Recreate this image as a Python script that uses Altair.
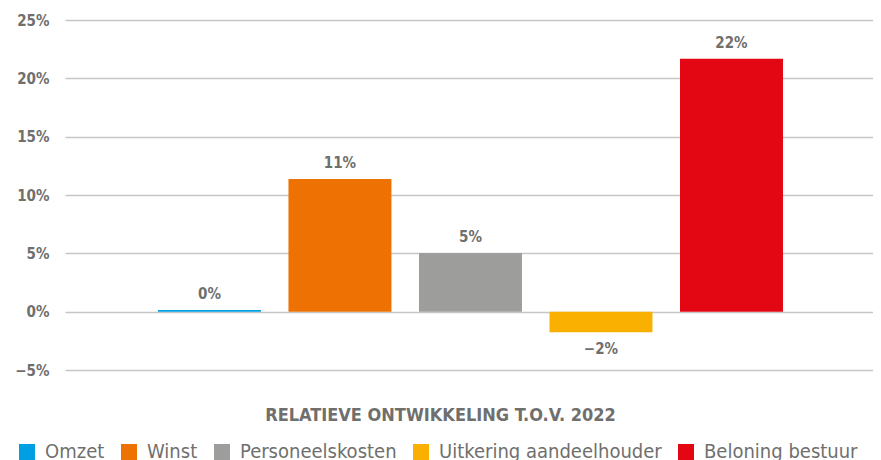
import altair as alt
import pandas as pd

categories = ["Omzet", "Winst", "Personeelskosten", "Uitkering aandeelhouder", "Beloning bestuur"]
values = [0.15, 11.38, 5.03, -1.77, 21.67]
labels = ["0%", "11%", "5%", "\u22122%", "22%"]
colors = ["#009FE3", "#EE7203", "#9D9D9C", "#F9B000", "#E30613"]
y_ticks = [-5, 0, 5, 10, 15, 20, 25]
x_title = "RELATIEVE ONTWIKKELING T.O.V. 2022"

df = pd.DataFrame({"cat": categories, "val": values, "lbl": labels})

FONT = "DejaVu Sans Condensed"
GREY = "#6F6F6E"

xscale = alt.Scale(domain=categories, paddingInner=0.211, paddingOuter=0.701, align=0.508)
yscale = alt.Scale(domain=[-5, 25], nice=False, zero=False)

base = alt.Chart(df)

bars = base.mark_bar().encode(
    x=alt.X("cat:N", scale=xscale, sort=categories,
            axis=alt.Axis(labels=False, ticks=False, domain=False, grid=False,
                          title=x_title, titleX=375, titleY=50,
                          titleAlign="center", titleBaseline="alphabetic",
                          titleFont=FONT, titleFontSize=18, titleFontWeight="bold", titleColor=GREY)),
    y=alt.Y("val:Q", scale=yscale,
            axis=alt.Axis(values=y_ticks, labelExpr="datum.value < 0 ? '\u2212' + abs(datum.value) + '%' : datum.value + '%'",
                          ticks=False, domain=False, grid=True, gridColor="#C6C6C6", gridWidth=1.5,
                          labelPadding=16, labelFont=FONT, labelFontSize=15, labelFontWeight="bold",
                          labelColor=GREY, title=None)),
    color=alt.Color("cat:N", scale=alt.Scale(domain=categories, range=colors),
                    legend=alt.Legend(orient="none", legendX=-48, legendY=422, direction="horizontal",
                                      title=None, symbolType="square", symbolSize=256,
                                      symbolStrokeWidth=0, labelFont=FONT, labelFontSize=20,
                                      labelColor=GREY, columnPadding=14, labelOffset=8,
                                      labelLimit=0, columns=5)),
)

pos_text = base.transform_filter("datum.val >= 0").mark_text(
    baseline="alphabetic", dy=-11, font=FONT, fontSize=15, fontWeight="bold", color=GREY
).encode(x=alt.X("cat:N", scale=xscale, sort=categories), y=alt.Y("val:Q", scale=yscale), text="lbl:N")

neg_text = base.transform_filter("datum.val < 0").mark_text(
    baseline="top", dy=10, font=FONT, fontSize=15, fontWeight="bold", color=GREY
).encode(x=alt.X("cat:N", scale=xscale, sort=categories), y=alt.Y("val:Q", scale=yscale), text="lbl:N")

chart = alt.layer(bars, pos_text, neg_text).properties(
    width=808, height=350,
    autosize=alt.AutoSizeParams(type="none"),
    padding={"left": 57, "top": 12, "right": 0, "bottom": 90},
).configure_view(stroke=None)

chart.save("out.html", embed_options={"renderer": "svg", "actions": False})
